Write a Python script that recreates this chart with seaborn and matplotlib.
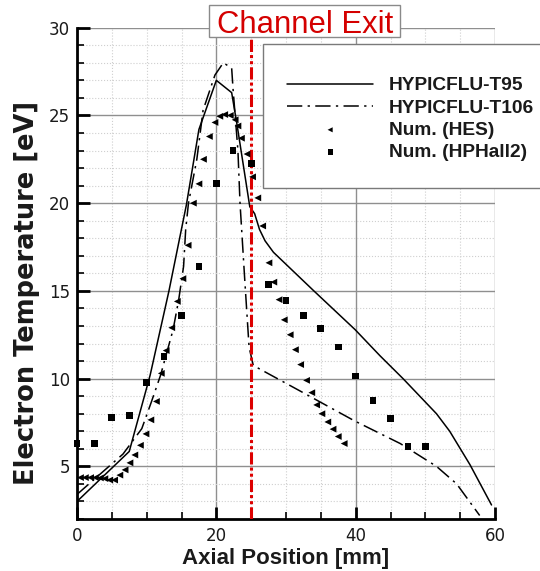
import matplotlib
matplotlib.use("Agg")
import matplotlib.pyplot as plt
from matplotlib.patches import Rectangle
from matplotlib.ticker import MultipleLocator
import seaborn as sns

# HYPICFLU-T95 electron temperature profile
t95_x = [0, 7.5, 10.5, 13.2, 15.7, 17.5, 20.0, 22.2, 23.0, 24.8, 25.5, 26.2,
         27.0, 28.2, 34.0, 39.9, 43.5, 46.8, 51.6, 53.5, 56.4, 59.5]
t95_y = [3.0, 5.85, 10.2, 15.0, 19.9, 24.2, 27.0, 26.3, 24.4, 19.8, 19.4, 18.5,
         17.85, 17.2, 15.0, 12.8, 11.3, 10.0, 8.0, 7.0, 5.1, 2.8]

# HYPICFLU-T106 electron temperature profile
t106_x = [0, 6.6, 9.3, 10.7, 12.0, 13.8, 14.6, 15.3, 15.6, 16.0, 17.2, 18.1,
          19.8, 21.0, 22.2, 22.4, 23.1, 23.4, 24.1, 24.7, 25.3, 32.0, 39.8,
          46.4, 51.6, 54.5, 57.8]
t106_y = [3.4, 5.7, 7.15, 8.7, 10.2, 12.8, 14.5, 16.4, 18.5, 20.0, 22.5, 25.3,
          27.3, 28.0, 27.7, 26.5, 23.0, 20.0, 15.5, 11.8, 10.75, 9.3, 7.6,
          6.3, 5.0, 4.0, 2.2]

# Num. (HES)
hes_x = [0.5, 1.2, 1.95, 2.65, 3.35, 4.0, 4.7, 5.4, 6.15, 6.9, 7.6, 8.3, 9.1,
         9.9, 10.6, 11.4, 12.1, 12.8, 13.6, 14.4, 15.2, 15.95, 16.7, 17.5,
         18.15, 19.0, 19.8, 20.5, 21.2, 22.0, 22.7, 23.1, 23.6, 24.4, 25.2,
         25.95, 26.65, 27.55, 28.25, 29.0, 29.75, 30.6, 31.35, 32.1, 32.95,
         33.7, 34.4, 35.15, 36.0, 36.75, 37.5, 38.35]
hes_y = [4.36, 4.36, 4.36, 4.36, 4.34, 4.3, 4.22, 4.22, 4.5, 4.8, 5.2, 5.65,
         6.2, 6.85, 7.65, 8.7, 10.3, 11.6, 12.9, 14.4, 15.7, 17.6, 20.0, 21.1,
         22.5, 23.8, 24.6, 24.95, 25.05, 25.0, 24.75, 24.4, 23.7, 22.8, 21.5,
         20.3, 18.7, 16.6, 15.5, 14.5, 13.35, 12.5, 11.65, 10.8, 9.9, 9.2,
         8.5, 8.0, 7.53, 7.12, 6.7, 6.3]

# Num. (HPHall2)
hph_x = [0, 2.5, 5.0, 7.5, 10.0, 12.5, 15.0, 17.5, 20.0, 22.4, 25.0, 27.5,
         30.0, 32.5, 35.0, 37.5, 40.0, 42.5, 45.0, 47.5, 50.0]
hph_y = [6.3, 6.3, 7.8, 7.9, 9.8, 11.25, 13.6, 16.4, 21.1, 23.0, 22.25, 15.35,
         14.45, 13.6, 12.85, 11.8, 10.15, 8.75, 7.75, 6.15, 6.15]

channel_exit = 25.0

sns.set_theme(style="white")
plt.rcParams["font.family"] = ["Liberation Sans", "DejaVu Sans"]

W, H = 540, 571
fig = plt.figure(figsize=(W / 100, H / 100), dpi=100)
fig.patch.set_facecolor("white")
ax = fig.add_axes([77 / W, 1 - 519 / H, (495 - 77) / W, (519 - 27.7) / H])
ax.set_facecolor("white")

sns.lineplot(x=t95_x, y=t95_y, ax=ax, color="black", lw=1.1, sort=False,
             estimator=None, label="HYPICFLU-T95", zorder=3)
sns.lineplot(x=t106_x, y=t106_y, ax=ax, color="black", lw=1.1, sort=False,
             estimator=None, linestyle=(0, (10, 3.5, 1.5, 3.5)),
             label="HYPICFLU-T106", zorder=3)
sns.scatterplot(x=hes_x, y=hes_y, ax=ax, marker="<", s=24, color="black",
                edgecolor="none", linewidth=0, label="Num. (HES)", zorder=4,
                clip_on=False)
sns.scatterplot(x=hph_x, y=hph_y, ax=ax, marker="s", s=24, color="black",
                edgecolor="none", linewidth=0, label="Num. (HPHall2)", zorder=4,
                clip_on=False)

ax.axvline(channel_exit, color="#dd0000", lw=2.2,
           linestyle=(0, (4, 1, 1, 1, 1, 1)), zorder=3.5)

ax.set_xlim(0, 60)
ax.set_ylim(2, 30)
ax.xaxis.set_major_locator(MultipleLocator(20))
ax.xaxis.set_minor_locator(MultipleLocator(5))
ax.yaxis.set_major_locator(MultipleLocator(5))
ax.yaxis.set_minor_locator(MultipleLocator(1))

ax.grid(which="major", color="#8f8f8f", lw=1.0, linestyle="-")
ax.grid(which="minor", color="#cfcfcf", lw=0.8, linestyle=":")
ax.set_axisbelow(True)

for side in ("top", "right"):
    ax.spines[side].set_visible(False)
for side in ("left", "bottom"):
    ax.spines[side].set_visible(True)
    ax.spines[side].set_color("black")
    ax.spines[side].set_linewidth(2.0)

ax.tick_params(which="major", direction="in", length=9, width=2.0,
               colors="black", bottom=True, left=True, top=False, right=False)
ax.tick_params(which="minor", direction="in", length=5, width=1.2,
               colors="black", bottom=True, left=True, top=False, right=False)
ax.tick_params(axis="x", which="major", pad=6)
ax.tick_params(axis="y", which="major", pad=5)
for lbl in ax.get_xticklabels() + ax.get_yticklabels():
    lbl.set_color("#1a1a1a")
    lbl.set_fontfamily("DejaVu Sans")
    lbl.set_fontsize(12)

ax.set_xlabel("Axial Position [mm]", fontsize=16, fontweight="bold",
              labelpad=2, color="#1a1a1a")
ax.set_ylabel("Electron Temperature [eV]", fontsize=18.5, fontweight="bold",
              family=["DejaVu Sans"], color="#1a1a1a")
ax.yaxis.set_label_coords(-0.088, 0.46)

# legend frame and entries
handles, labels = ax.get_legend_handles_labels()
ax.get_legend().remove()
fig.patches.append(Rectangle((263 / W, 1 - 188 / H), 0.6, 144 / H,
                             transform=fig.transFigure, facecolor="white",
                             edgecolor="#7a7a7a", lw=1.0, zorder=5))
leg = fig.legend(handles, labels, loc="upper left",
                 bbox_to_anchor=(287 / W, 1 - 77 / H),
                 bbox_transform=fig.transFigure, frameon=False,
                 borderpad=0, borderaxespad=0, handlelength=4.5,
                 handletextpad=0.8, labelspacing=0.25, markerscale=0.75,
                 prop={"size": 13.8, "weight": "bold"})
leg.set_zorder(6)
for t in leg.get_texts():
    t.set_color("#1a1a1a")

# channel exit annotation
fig.patches.append(Rectangle((209 / W, 1 - 37 / H), 191 / W, 32 / H,
                             transform=fig.transFigure, facecolor="white",
                             edgecolor="#8a8a8a", lw=1.0, zorder=5))
txt = fig.text(305 / W, 1 - 33 / H, "Channel Exit", color="#d40000",
               fontsize=22.3, ha="center", va="baseline")
txt.set_zorder(6)

fig.savefig("out.png", dpi=100)
